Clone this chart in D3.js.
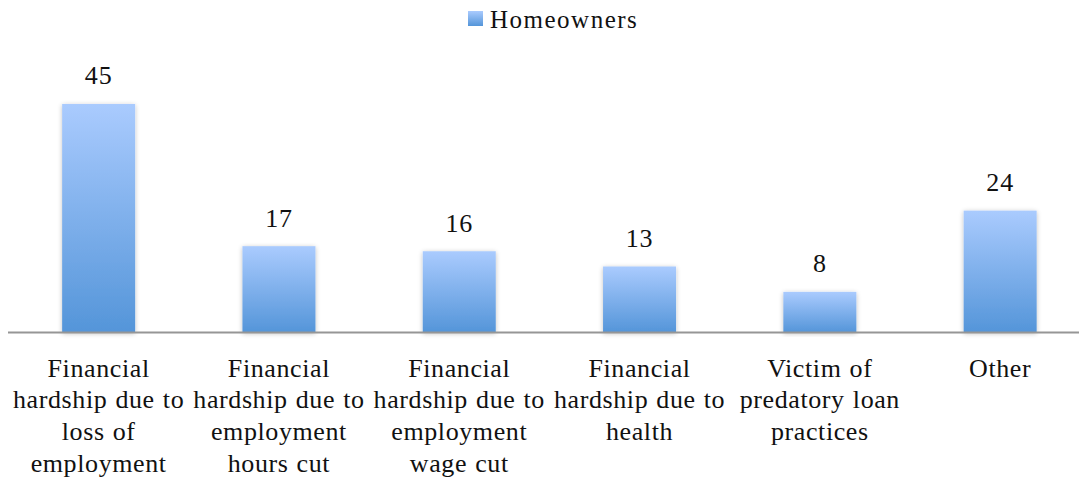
<!DOCTYPE html>
<html>
<head>
<meta charset="utf-8">
<script src="https://cdn.jsdelivr.net/npm/d3@7"></script>
<style>
  html, body { margin: 0; padding: 0; background: #fff; }
  svg { display: block; }
  text { font-family: "Liberation Serif", "Times New Roman", serif; fill: #111; }
</style>
</head>
<body>
<svg id="chart" width="1079" height="480"></svg>
<script>
// Reasons for hardship reported by homeowners
const categories = [
  "loss",
  "hours",
  "wage",
  "health",
  "predatory",
  "other"
];
const categoryLabels = [
  ["Financial", "hardship due to", "loss of", "employment"],
  ["Financial", "hardship due to", "employment", "hours cut"],
  ["Financial", "hardship due to", "employment", "wage cut"],
  ["Financial", "hardship due to", "health"],
  ["Victim of", "predatory loan", "practices"],
  ["Other"]
];
const homeowners = [45, 17, 16, 13, 8, 24];
const seriesName = "Homeowners";

const svg = d3.select("#chart");
const W = 1079;
const baseY = 332.5;

const x = d3.scaleBand()
  .domain(categories)
  .range([8.5, 8.5 + 180.3 * categories.length])
  .padding(0);

const y = d3.scaleLinear()
  .domain([0, 50])
  .range([baseY, baseY - 50 * 5.078]);

const barW = 73;

// gradient fill and soft shadow for the bars
const defs = svg.append("defs");
const grad = defs.append("linearGradient")
  .attr("id", "barFill")
  .attr("x1", 0).attr("y1", 0).attr("x2", 0).attr("y2", 1);
grad.append("stop").attr("offset", "0%").attr("stop-color", "#aacbfe");
grad.append("stop").attr("offset", "100%").attr("stop-color", "#5495d9");

const shadow = defs.append("filter")
  .attr("id", "barShadow")
  .attr("x", "-20%").attr("y", "-10%").attr("width", "140%").attr("height", "120%");
shadow.append("feGaussianBlur").attr("in", "SourceAlpha").attr("stdDeviation", 2.5).attr("result", "b");
shadow.append("feOffset").attr("in", "b").attr("dx", 0).attr("dy", 1).attr("result", "o");
shadow.append("feComponentTransfer").attr("in", "o").attr("result", "s")
  .append("feFuncA").attr("type", "linear").attr("slope", 0.25);
const merge = shadow.append("feMerge");
merge.append("feMergeNode").attr("in", "s");
merge.append("feMergeNode").attr("in", "SourceGraphic");

const cx = d => x(d) + x.bandwidth() / 2;

// bars
svg.append("g")
  .selectAll("rect")
  .data(categories)
  .join("rect")
  .attr("x", d => cx(d) - barW / 2)
  .attr("y", (d, i) => y(homeowners[i]))
  .attr("width", barW)
  .attr("height", (d, i) => y(0) - y(homeowners[i]))
  .attr("fill", "url(#barFill)")
  .attr("filter", "url(#barShadow)");

// baseline axis
svg.append("line")
  .attr("x1", 8).attr("x2", W)
  .attr("y1", baseY).attr("y2", baseY)
  .attr("stroke", "#969696")
  .attr("stroke-width", 2);

// value labels
svg.append("g")
  .selectAll("text")
  .data(categories)
  .join("text")
  .attr("x", d => cx(d))
  .attr("y", (d, i) => y(homeowners[i]) - 19.5)
  .attr("text-anchor", "middle")
  .style("font-size", "26px")
  .style("letter-spacing", "0.8px")
  .text((d, i) => homeowners[i]);

// category labels, wrapped over several lines
const labelG = svg.append("g")
  .selectAll("text")
  .data(categories)
  .join("text")
  .attr("text-anchor", "middle")
  .style("font-size", "26px")
  .style("letter-spacing", "0.6px")
  .style("word-spacing", "1px");
labelG.each(function (d, i) {
  const t = d3.select(this);
  categoryLabels[i].forEach((line, j) => {
    t.append("tspan")
      .attr("x", cx(d))
      .attr("y", 376.7 + j * 31.7)
      .text(line);
  });
});

// legend
const legend = svg.append("g");
legend.append("rect")
  .attr("x", 468).attr("y", 11)
  .attr("width", 15).attr("height", 15)
  .attr("fill", "url(#barFill)");
legend.append("text")
  .attr("x", 490).attr("y", 28)
  .style("font-size", "25px")
  .style("letter-spacing", "1.5px")
  .text(seriesName);
</script>
</body>
</html>
